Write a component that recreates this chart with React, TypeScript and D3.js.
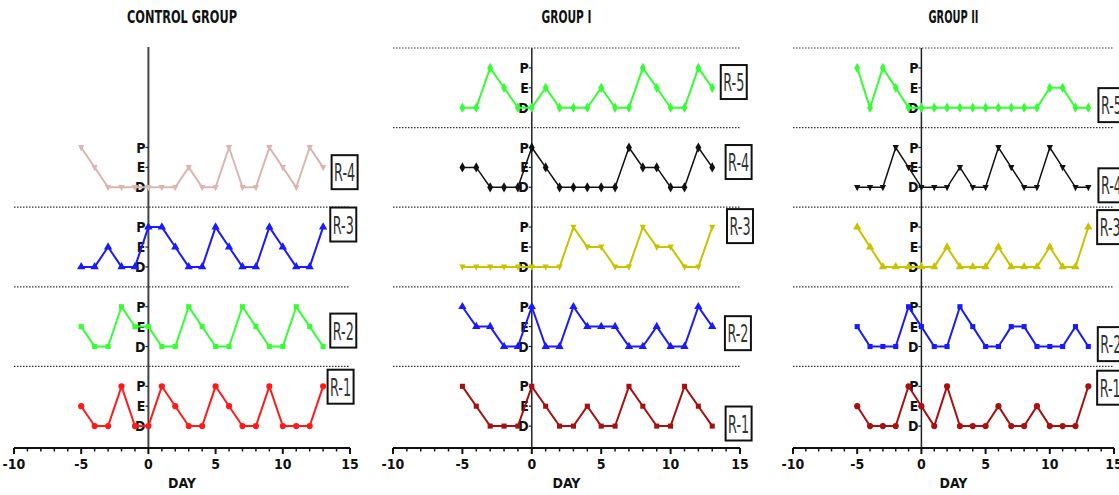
import React from 'react';
import * as d3 from 'd3';

// days on which the smear was read
const days = [-5, -4, -3, -2, -1, 0, 1, 2, 3, 4, 5, 6, 7, 8, 9, 10, 11, 12, 13];
const stages = ['D', 'E', 'P'];
const dayTicks = [-10, -5, 0, 5, 10, 15];

// one letter per day: D = diestrus, E = estrus, P = proestrus
const controlRats = ['R-1', 'R-2', 'R-3', 'R-4'];
const controlCycles = [
  'EDDPDDPEDDPEDDPDDDP',
  'EDDPEEDDPEDDPEDDPED',
  'DDEDDPPEDDPEDDPEDDP',
  'PEDDDDDDEDDPDDPEDPE',
];

const group1Rats = ['R-1', 'R-2', 'R-3', 'R-4', 'R-5'];
const group1Cycles = [
  'PEDDDPEDDEDDPEDDPED',
  'PEEDDPDDPEEEDDEDDPE',
  'DDDDDDDDPEEDDPEEDDP',
  'EEDDDPEDDDDDPEEDDPE',
  'DDPEDDEDDDEDDPEDDPE',
];

const group2Rats = ['R-1', 'R-2', 'R-3', 'R-4', 'R-5'];
const group2Cycles = [
  'EDDDPEDPDDDEDDEDDDP',
  'EDDDPEDDPEDDEEDDDED',
  'PEDDDDDEDDDEDDDEDDP',
  'DDDPEDDDEDDPEDDPEDD',
  'PDPEDDDDDDDDDDDEEDD',
];

const NARROW = "'Liberation Sans Narrow', 'Arial Narrow', 'DejaVu Sans Condensed', sans-serif";
const ROW = 4; // y units per rat band

const triDown = {
  draw(ctx: any, size: number) {
    const h = Math.sqrt(size * 1.3);
    ctx.moveTo(-h / 2, -h / 2.6);
    ctx.lineTo(h / 2, -h / 2.6);
    ctx.lineTo(0, h / 1.6);
    ctx.closePath();
  },
};

const panels = [
  {
    title: 'CONTROL GROUP', titleLen: 110, range: [14, 350], rats: controlRats, cycles: controlCycles,
    colors: ['#ff1a1a', '#33ff33', '#1a1aff', '#dbb5b0'],
    symbols: [d3.symbolCircle, d3.symbolSquare, d3.symbolTriangle, triDown],
    dotted: [3, 7, 11], axisTop: 19.05, axisColor: '#444', axisWidth: 2,
    labelPos: [[14.3, 1.98], [14.5, 0.8], [14.5, 2.13], [14.6, 0.76]],
  },
  {
    title: 'GROUP I', titleLen: 50, range: [393, 740], rats: group1Rats, cycles: group1Cycles,
    colors: ['#a80f0f', '#1a1aff', '#c8c300', '#111111', '#33ff33'],
    symbols: [d3.symbolSquare, d3.symbolTriangle, triDown, d3.symbolDiamond, d3.symbolDiamond],
    dotted: [3, 7, 11, 15, 19], axisTop: 19, axisColor: '#222', axisWidth: 1.5,
    labelPos: [[14.9, 0.13], [14.85, 0.67], [15.0, 2.05], [14.9, 1.27], [14.55, 1.29]],
  },
  {
    title: 'GROUP II', titleLen: 50, range: [793, 1114], rats: group2Rats, cycles: group2Cycles,
    colors: ['#a80f0f', '#1a1aff', '#c8c300', '#111111', '#33ff33'],
    symbols: [d3.symbolCircle, d3.symbolSquare, d3.symbolTriangle, triDown, d3.symbolDiamond],
    dotted: [3, 7, 11, 15, 19], axisTop: 19, axisColor: '#222', axisWidth: 1.5,
    labelPos: [[14.7, 1.93], [14.75, 0.12], [14.7, 2.0], [14.8, 0.1], [14.8, 0.13]],
  },
];

const y = d3.scaleLinear().domain([-1.1, 19]).range([448, 48]);

function Panel({ p }: { p: any }) {
  const x = d3.scaleLinear().domain([-10, 15]).range(p.range);
  const minor = d3.range(-10, 16);
  const line = d3.line<[number, number]>().x((d) => x(d[0])).y((d) => y(d[1]));
  const mid = (p.range[0] + p.range[1]) / 2;
  return (
    <g>
      <text x={mid} y={23} textAnchor="middle" fontFamily={NARROW} fontWeight="bold" fontSize={17}
        textLength={p.titleLen} lengthAdjust="spacingAndGlyphs" fill="#111">{p.title}</text>
      {p.dotted.map((v: number) => (
        <line key={v} x1={p.range[0]} x2={p.range[1]} y1={y(v)} y2={y(v)} stroke="#333" strokeWidth={1.2} strokeDasharray="1.5,1.5" />
      ))}
      {/* vertical axis at day 0 */}
      <line x1={x(0)} x2={x(0)} y1={y(p.axisTop)} y2={y(-1.1)} stroke={p.axisColor} strokeWidth={p.axisWidth} />
      {p.rats.map((r: string, i: number) => (
        <g key={'t' + r}>
          {stages.map((s, k) => (
            <g key={s}>
              <line x1={x(0) - 3} x2={x(0)} y1={y(i * ROW + k)} y2={y(i * ROW + k)} stroke="#222" strokeWidth={1.2} />
              <text x={x(0) - 3} y={y(i * ROW + k) + 5} textAnchor="end" fontFamily={NARROW} fontWeight="bold" fontSize={14} fill="#111">{s}</text>
            </g>
          ))}
        </g>
      ))}
      {p.rats.map((r: string, i: number) => {
        const pts: [number, number][] = days.map((d, j) => [d, i * ROW + stages.indexOf(p.cycles[i][j])]);
        const sym = d3.symbol().type(p.symbols[i]).size(p.symbols[i] === d3.symbolSquare ? 26 : 30);
        const c = p.colors[i];
        return (
          <g key={r}>
            <path d={line(pts) || ''} fill="none" stroke={c} strokeWidth={c === '#111111' ? 1.5 : 2} />
            {pts.map((d, j) => (
              <path key={j} d={sym() || ''} transform={`translate(${x(d[0])},${y(d[1])})`} fill={c} />
            ))}
          </g>
        );
      })}
      {p.rats.map((r: string, i: number) => {
        const [ld, lv] = p.labelPos[i];
        const cx = x(ld);
        const cy = y(i * ROW + lv);
        return (
          <g key={'l' + r}>
            <rect x={cx - 13} y={cy - 17} width={26} height={34} fill="#fff" stroke="#111" strokeWidth={2} />
            <text x={cx} y={cy + 9} textAnchor="middle" fontFamily={NARROW} fontSize={24} fill="#333"
              textLength={21} lengthAdjust="spacingAndGlyphs">{r}</text>
          </g>
        );
      })}
      {/* x axis */}
      <line x1={p.range[0]} x2={p.range[1]} y1={y(-1.1)} y2={y(-1.1)} stroke="#111" strokeWidth={2} />
      {minor.map((d) => (
        <line key={d} x1={x(d)} x2={x(d)} y1={y(-1.1)} y2={y(-1.1) + (d % 5 === 0 ? 6 : 3.5)} stroke="#111" strokeWidth={d % 5 === 0 ? 2 : 1.5} />
      ))}
      {dayTicks.map((d) => (
        <text key={d} x={x(d)} y={469} textAnchor="middle" fontFamily={NARROW} fontWeight="bold" fontSize={14} fill="#111">{d}</text>
      ))}
      <text x={mid} y={488} textAnchor="middle" fontFamily={NARROW} fontWeight="bold" fontSize={14} fill="#111">DAY</text>
    </g>
  );
}

export default function App() {
  return (
    <svg width={1119} height={495} style={{ position: 'absolute', left: 0, top: 0, background: '#fff' }}>
      {panels.map((p) => (
        <Panel key={p.title} p={p} />
      ))}
    </svg>
  );
}
